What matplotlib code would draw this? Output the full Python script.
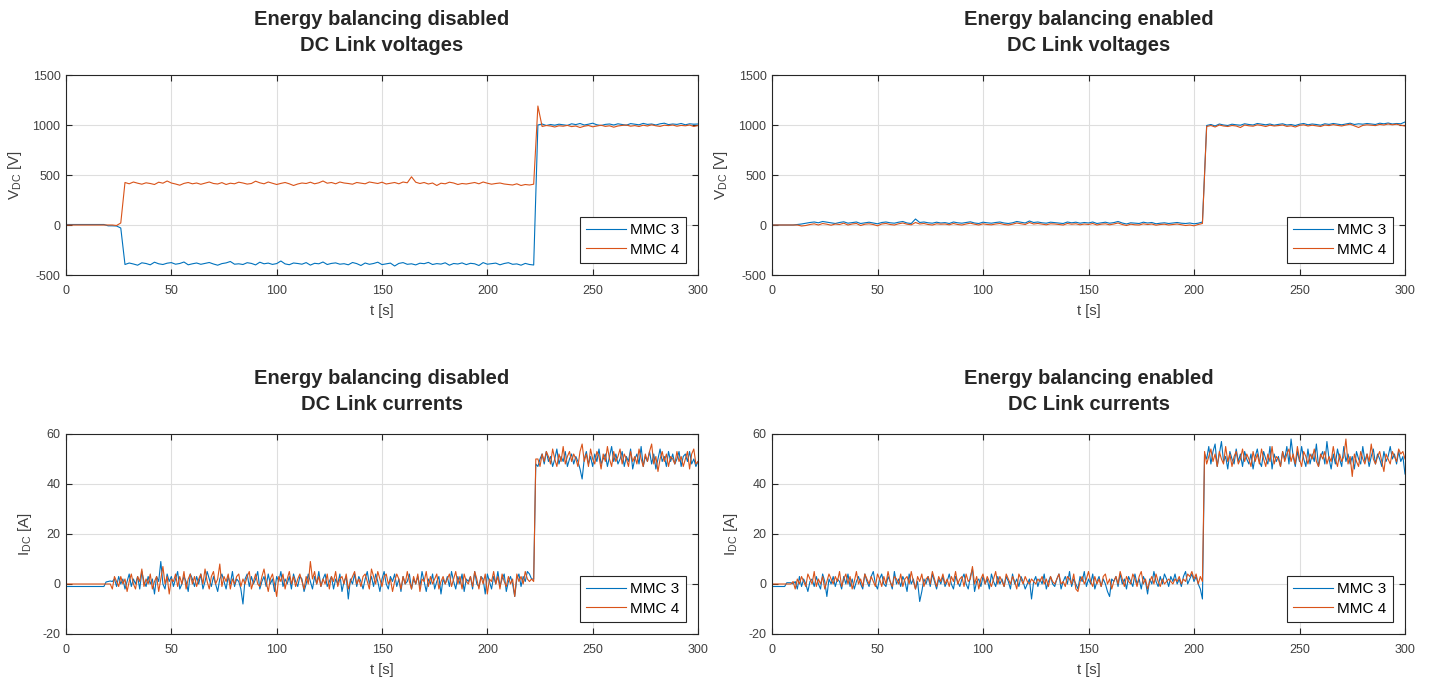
import numpy as np
import matplotlib
matplotlib.use("Agg")
import matplotlib.pyplot as plt

plt.rcParams['font.family'] = ['Liberation Sans', 'DejaVu Sans']
plt.rcParams['mathtext.default'] = 'regular'
plt.rcParams['axes.unicode_minus'] = False

# sampling steps of the read-off values [s]
dt_v = 2.0
dt_i = 1.0

# ---- DC link voltages, energy balancing disabled [V] ----
v3_dis = ([5] * 10 + [-8, -8, -10, -30] +
          [-395, -380, -390, -402, -378, -385, -398, -372, -388, -395,
           -382, -376, -392, -385, -370, -398, -388, -380, -393, -384,
           -375, -390, -402, -386, -379, -365, -392, -388, -395, -377,
           -384, -399, -372, -388, -381, -394, -386, -360, -389, -397,
           -380, -385, -392, -376, -401, -383, -388, -370, -395, -384,
           -379, -392, -387, -398, -375, -386, -405, -380, -393, -385,
           -372, -396, -389, -381, -410, -384, -376, -393, -388, -399,
           -382, -387, -374, -395, -386, -391, -378, -402, -385, -390,
           -379, -396, -383, -388, -405, -376, -392, -387, -381, -398,
           -385, -377, -393, -389, -402, -384, -395, -400] +
          [1000, 1010, 995, 1005, 998, 1008, 1002, 996, 1012, 1004,
           1015, 1000, 1008, 1018, 1002, 995, 1006, 1010, 1000, 1012,
           1005, 998, 1014, 1008, 1002, 1016, 1006, 1010, 1000, 1012,
           1018, 1004, 1010, 1006, 1015, 1002, 1012, 1008, 1010])
v4_dis = ([0] * 12 + [-5, 20] +
          [425, 412, 430, 418, 408, 422, 415, 405, 428, 418,
           440, 420, 410, 398, 416, 425, 412, 420, 407, 418,
           430, 415, 410, 424, 405, 418, 412, 428, 420, 409,
           415, 438, 422, 412, 430, 418, 405, 416, 425, 412,
           395, 410, 420, 415, 428, 412, 422, 440, 418, 425,
           412, 430, 420, 415, 408, 425, 418, 412, 430, 422,
           415, 428, 410, 418, 425, 412, 430, 422, 482, 428,
           415, 425, 410, 420, 395, 418, 412, 428, 420, 405,
           415, 410, 418, 425, 412, 430, 418, 408, 415, 420,
           410, 405, 400, 412, 395, 405, 400, 408] +
          [1190] +
          [985, 995, 990, 980, 992, 988, 996, 984, 990, 975,
           988, 995, 982, 990, 998, 986, 992, 978, 990, 996,
           1000, 988, 994, 985, 998, 990, 1002, 992, 986, 998,
           994, 1000, 988, 996, 992, 1000, 985, 995])

# ---- DC link voltages, energy balancing enabled [V] ----
v3_en = ([0] * 6 + [5] +
         [10, 18, 25, 30, 22, 35, 28, 20, 15, 25,
          32, 18, 24, 30, 15, 22, 28, 20, 12, 25,
          30, 22, 18, 28, 35, 20, 15, 60, 25, 30,
          22, 18, 28, 20, 24, 15, 30, 22, 18, 25,
          32, 20, 15, 28, 22, 18, 25, 30, 20, 15,
          22, 35, 28, 20, 40, 25, 30, 22, 18, 28,
          24, 20, 15, 30, 22, 28, 18, 25, 20, 30,
          15, 22, 28, 18, 24, 35, 20, 10, 22, 18,
          15, 28, 20, 25, 12, 18, 22, 15, 20, 25,
          18, 15, 20, 12, 18, 30] +
         [995, 1005, 990, 1010, 1000, 995, 1008, 1002, 998, 1012,
          1005, 1000, 1015, 1008, 1002, 1010, 998, 1006, 1012, 1000,
          1005, 995, 1008, 1015, 1002, 1010, 1005, 998, 1012, 1006,
          1015, 1008, 1002, 1010, 1018, 1005, 1012, 1008, 1015, 1010,
          1005, 1018, 1012, 1020, 1010, 1015, 1012, 1030])
v4_en = ([0] * 7 +
         [-10, -5, 5, 12, 0, 15, 8, -2, 10, 5,
          18, 0, 10, 15, -5, 8, 12, 5, -8, 10,
          15, 5, 0, 12, 20, 8, 2, 25, 10, 15,
          5, 0, 12, 8, 10, 2, 15, 5, 0, 10,
          18, 8, 0, 12, 5, 2, 10, 15, 5, 0,
          8, 20, 12, 5, 25, 10, 15, 8, 2, 12,
          10, 5, 0, 15, 8, 12, 2, 10, 5, 15,
          0, 8, 12, 2, 10, 20, 5, -5, 8, 2,
          0, 12, 5, 10, -2, 5, 8, 0, 5, 10,
          2, -5, 0, -8, 5, 15] +
         [985, 995, 980, 1000, 990, 985, 995, 990, 975, 1000,
          992, 988, 1002, 995, 985, 998, 990, 994, 1000, 986,
          992, 980, 996, 1002, 990, 998, 992, 985, 1000, 994,
          1004, 996, 990, 1000, 1008, 992, 975, 996, 1002, 998,
          994, 1006, 1000, 1010, 1002, 1008, 998, 990])

# ---- DC link currents, energy balancing disabled [A] ----
i3_dis = ([-1] * 19 + [0.8, 1, 1.2] +
          [1, 2, -1, 3, 0, 2, -2, 1, 4, -1, 2, 0, 3, -2, 5, 1, -1, 3, 0, 2,
           -4, 3, 1, 9, 0, -2, 4, 1, 3, -1, 2, 5, -2, 0, 3, 1, -3, 4, 2, -1,
           3, 0, 4, -2, 1, 5, 2, -1, 3, 0, -3, 2, 4, 1, -2, 3, 0, 5, -1, 2,
           1, -2, -8, 2, 4, -1, 3, 0, 2, 5, -2, 1, 3, -1, 4, 0, 2, -3, 3, 1,
           5, -1, 2, 0, 3, -2, 4, 1, -1, 3, 2, -3, 0, 4, 1, -2, 3, 0, 5, -1,
           2, 4, -1, 1, 3, -2, 2, 0, 4, -3, 1, 3, -6, 2, 0, 4, -1, 3, 1, -2,
           2, 5, 0, 3, -1, 4, 1, -3, 2, 5, 0, -2, 3, 1, 4, -1, 2, -3, 3, 0,
           1, 4, -2, 2, 0, 3, -1, 5, 1, -3, 2, 0, 4, -2, 1, 3, -4, 2, 0, 3,
           -1, 5, 1, -2, 3, 0, 4, -3, 2, 1, 3, -2, 5, 0, -1, 3, 2, -4, 4, 1,
           -2, 3, 0, 5, -1, 2, 4, -3, 1, 3, 0, -5, 2, 4, -1, 3, 1, 5, 4, 2,
           2] +
          [48] +
          [47, 50, 52, 48, 53, 49, 51, 47, 50, 54, 48, 51, 49, 53, 47, 50, 52, 48, 51, 49,
           46, 42, 50, 53, 48, 51, 47, 52, 49, 54, 48, 50, 52, 47, 51, 55, 49, 52, 48, 50,
           53, 47, 51, 49, 54, 46, 50, 52, 48, 55, 47, 51, 49, 53, 48, 52, 46, 50, 54, 49,
           51, 47, 53, 49, 52, 48, 50, 53, 47, 51, 52, 49, 53, 48, 50, 47, 49])
i4_dis = ([0] * 22 +
          [-2, 3, 1, -1, 3, 0, 2, -3, 1, 4, 0, -2, 3, 1, 6, -1, 2, 0, 4, -2,
           1, 3, -3, 2, 7, 0, 3, -4, 2, 1, 4, -1, 3, 0, 5, -2, 2, 4, 0, 3,
           -1, 2, 4, 0, 6, 1, -2, 3, 5, 0, 2, 8, -1, 3, 1, 4, -2, 2, 0, 3,
           4, -1, 2, 0, 3, 5, -2, 1, 4, 0, -1, 3, 6, 1, -3, 2, 4, 0, -5, 3,
           1, 4, -2, 2, 5, 0, 3, -1, 2, 4, 1, -2, 3, 0, 9, 2, 5, 0, 3, -1,
           2, 0, 4, -2, 3, 1, 5, -1, 2, 3, 0, 4, -2, 1, 3, 5, 0, 2, -1, 3,
           4, 1, -2, 6, 3, 0, 5, 2, -1, 3, 4, 0, 2, -3, 1, 4, 2, -2, 3, 0,
           5, 1, -2, 3, 0, 4, -3, 2, 1, 5, -1, 3, 0, 2, 4, -2, 1, 3, 0, 2,
           4, -1, 2, 5, 0, 3, -2, 4, 1, 0, 3, -1, 5, 2, -2, 3, 0, 4, -4, 2,
           1, 5, 0, 3, -2, 4, 1, -1, 3, 0, 2, -5, 4, 1, 3, 0, 5, 2, 1, 2,
           1] +
          [50] +
          [50, 47, 52, 49, 53, 51, 48, 54, 50, 47, 52, 49, 55, 48, 51, 53, 49, 52, 50, 47,
           53, 56, 49, 52, 47, 54, 50, 48, 53, 51, 46, 52, 49, 55, 50, 47, 53, 49, 51, 54,
           48, 52, 50, 47, 53, 49, 51, 48, 54, 50, 47, 52, 49, 53, 56, 48, 51, 45, 50, 53,
           49, 52, 47, 51, 50, 48, 53, 49, 51, 47, 50, 53, 46, 52, 54, 48, 49])

# ---- DC link currents, energy balancing enabled [A] ----
i3_en = ([-1] * 7 + [0.5, 0.5, 0.5] +
         [0, 1, -2, 3, -1, 2, 0, -3, 1, 2, -1, 3, 0, -2, 4, 1, -5, 2, 0, 3,
          -1, 2, 1, -2, 3, 0, 4, -1, 2, -2, 1, 3, 0, -2, 4, 1, -1, 3, 5, 0,
          -2, 2, 4, 0, -1, 3, 1, -2, 5, 0, 2, -1, 3, 1, -3, 4, 0, 2, -2, 1,
          -7, -3, 2, 0, 3, -1, 4, 1, -2, 2, 0, 3, -1, 1, 4, 0, -2, 3, 1, -1,
          2, 4, 0, -2, 3, 6, -3, 1, 2, -1, 3, 0, 2, -2, 4, 1, -1, 3, 0, 2,
          -1, 3, 1, -2, 4, 0, 2, -1, 3, 1, -2, 0, 2, -6, 1, 3, -1, 2, 0, 4,
          -2, 1, 3, 0, -1, 2, 4, -2, 1, 3, 0, 5, -1, 2, 0, -2, 3, 1, 5, -1,
          2, 0, 4, -2, 1, 3, -1, 2, 0, -3, -5, 2, 1, 3, -1, 4, 0, 2, -2, 3,
          1, -1, 4, 0, 2, -2, 3, 1, -4, 2, 0, 5, 1, -1, 3, 0, 4, 2, -1, 3,
          1, 4, 0, 2, -1, 3, 5, 0, 2, 4, 1, 3, 0, -2, -6] +
         [52] +
         [50, 55, 48, 53, 56, 47, 52, 57, 49, 51, 46, 53, 50, 48, 54, 49, 52, 47, 53, 50,
          48, 52, 46, 51, 54, 49, 47, 53, 50, 48, 55, 46, 52, 49, 51, 47, 53, 50, 55, 48,
          58, 51, 47, 53, 49, 55, 50, 47, 54, 48, 52, 49, 56, 47, 51, 53, 48, 57, 50, 46,
          52, 48, 54, 50, 47, 55, 49, 52, 48, 51, 46, 53, 50, 48, 55, 49, 52, 47, 51, 54,
          48, 52, 50, 47, 53, 49, 51, 55, 50, 52, 48, 53, 49, 51, 44])
i4_en = ([0] * 10 +
         [1, -2, 2, 0, 3, 1, -1, 4, 2, 0, 5, -1, 2, 0, 3, -2, 1, 4, 2, 0,
          3, 1, 5, -1, 2, 4, 0, 3, -2, 1, 5, 0, 2, -1, 4, 2, 0, 3, 1, -1,
          4, 2, -1, 3, 0, 5, 1, -1, 3, 2, 0, 4, -1, 2, 3, 0, 5, 1, -2, 3,
          1, 4, -1, 2, 3, 0, 5, 2, -1, 3, 1, 4, 0, 2, -1, 3, 1, 5, 0, 2,
          3, -1, 4, 1, 2, 7, 0, 3, -2, 2, 4, 0, 3, 1, -1, 2, 5, 0, 3, 1,
          -1, 4, 2, 0, 3, 1, -2, 4, 2, 0, 3, 1, 0, 2, 1, 0, 2, 1, 3, 0,
          2, -1, 3, 1, 0, 2, 4, 0, 1, -1, 3, 2, 0, 4, -2, -3, 1, 3, 0, 2,
          5, 1, -1, 3, 0, 2, -1, 3, 4, 0, 2, -2, 1, 3, 0, 5, 2, -1, 3, 1,
          0, 4, 2, -1, 3, 5, 0, 2, -2, 1, 3, 0, 4, 1, -1, 2, 0, 1, 2, 1,
          0, 2, 1, 3, 0, 2, 1, 4, 3, 5, 2, 4, 0, 3, 1] +
         [53] +
         [48, 51, 54, 49, 52, 47, 53, 50, 48, 55, 49, 52, 47, 51, 53, 48, 50, 54, 49, 52,
          50, 47, 53, 49, 52, 48, 54, 50, 47, 52, 49, 55, 48, 51, 50, 47, 53, 49, 52, 54,
          49, 52, 48, 55, 50, 47, 53, 51, 48, 52, 50, 54, 49, 47, 52, 50, 53, 48, 51, 49,
          55, 50, 47, 52, 49, 51, 58, 48, 51, 43, 52, 49, 47, 53, 50, 48, 52, 49, 56, 50,
          48, 51, 53, 49, 45, 52, 50, 48, 53, 51, 49, 54, 52, 53, 50])

titles = ["Energy balancing disabled\nDC Link voltages",
          "Energy balancing enabled\nDC Link voltages",
          "Energy balancing disabled\nDC Link currents",
          "Energy balancing enabled\nDC Link currents"]
labels = ["MMC 3", "MMC 4"]

C_BLUE = "#0072BD"
C_ORANGE = "#D95319"
C_DARK = "#262626"

fig = plt.figure(figsize=(14.29, 6.77), dpi=100)
W, H = 1429.0, 677.0
boxes = [(66, 75, 632, 200), (772, 75, 633, 200),
         (66, 434, 632, 200), (772, 434, 633, 200)]

panels = [
    (v3_dis, v4_dis, dt_v, (-500, 1500), np.arange(-500, 1501, 500), "$V_{DC}$ [V]"),
    (v3_en, v4_en, dt_v, (-500, 1500), np.arange(-500, 1501, 500), "$V_{DC}$ [V]"),
    (i3_dis, i4_dis, dt_i, (-20, 60), np.arange(-20, 61, 20), "$I_{DC}$ [A]"),
    (i3_en, i4_en, dt_i, (-20, 60), np.arange(-20, 61, 20), "$I_{DC}$ [A]"),
]

for k, (s3, s4, dt, ylim, yticks, ylab) in enumerate(panels):
    x0, y0, w, h = boxes[k]
    ax = fig.add_axes([x0 / W, 1 - (y0 + h) / H, w / W, h / H])
    t3 = np.arange(len(s3)) * dt
    t4 = np.arange(len(s4)) * dt
    ax.plot(t3, s3, color=C_BLUE, lw=0.8, label=labels[0])
    ax.plot(t4, s4, color=C_ORANGE, lw=0.8, label=labels[1])
    ax.set_xlim(0, 300)
    ax.set_ylim(*ylim)
    ax.set_xticks(np.arange(0, 301, 50))
    ax.set_yticks(yticks)
    ax.grid(True, color="#dedede", lw=0.8)
    ax.set_axisbelow(True)
    for sp in ax.spines.values():
        sp.set_color(C_DARK)
        sp.set_linewidth(0.8)
    ax.tick_params(direction="in", top=True, right=True, length=4.5,
                   width=0.8, color=C_DARK, labelcolor="#404040", labelsize=9)
    ax.tick_params(axis="x", pad=7)
    ax.tick_params(axis="y", pad=4)
    ax.set_xlabel("t [s]", fontsize=10.5, color="#404040", labelpad=5)
    ax.set_ylabel(ylab, fontsize=11, color="#404040", labelpad=6)
    ax.set_title(titles[k], fontsize=14.5, fontweight="bold", color=C_DARK,
                 linespacing=1.5, pad=17)
    leg = ax.legend(loc="lower right", fontsize=11, fancybox=False, framealpha=1,
                    edgecolor=C_DARK, handlelength=2.6, handletextpad=0.3,
                    borderpad=0.4, labelspacing=0.35, borderaxespad=0.8)
    leg.get_frame().set_linewidth(0.8)

fig.savefig("out.png", dpi=100)
